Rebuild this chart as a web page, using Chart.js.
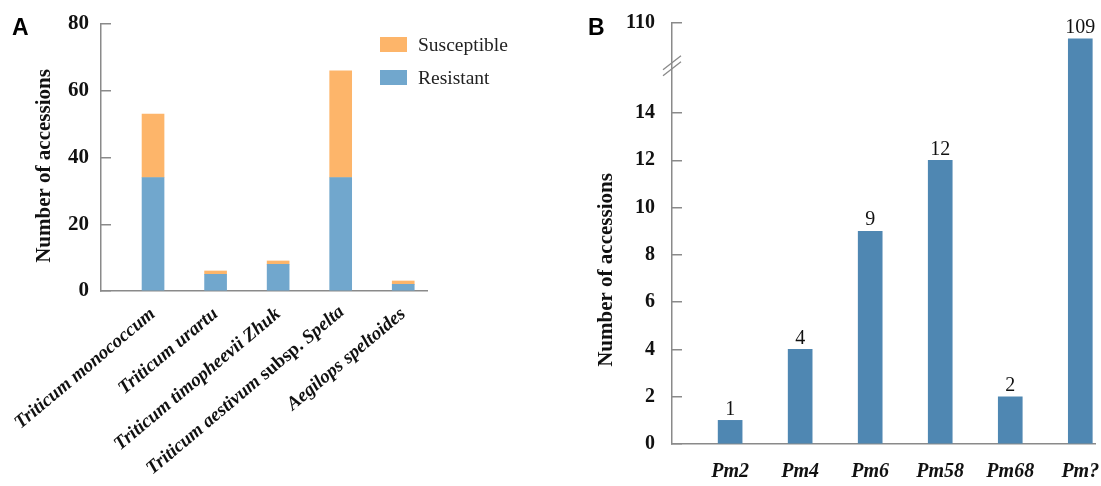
<!DOCTYPE html>
<html>
<head>
<meta charset="utf-8">
<script src="https://cdn.jsdelivr.net/npm/chart.js@4"></script>
<style>
  body { margin: 0; background: #fff; width: 1101px; height: 486px; position: relative; overflow: hidden; }
  .panel { position: absolute; top: 0; height: 486px; }
  #wrapA { left: 0; width: 560px; }
  #wrapB { left: 560px; width: 541px; }
  .tag { position: absolute; font: bold 23px "Liberation Sans", Arial, sans-serif; }
  #legendA { position: absolute; left: 380px; top: 28px; font: 19.5px "Liberation Serif", serif; color: #222; }
  #legendA div { height: 33px; display: flex; align-items: center; }
  #legendA span.box { display: inline-block; width: 27px; height: 15px; margin-right: 11px; }
</style>
</head>
<body>
<div class="panel" id="wrapA"><canvas id="chartA" width="560" height="486"></canvas></div>
<div class="panel" id="wrapB"><canvas id="chartB" width="541" height="486"></canvas></div>
<div class="tag" style="left:12px;top:14px">A</div>
<div class="tag" style="left:588px;top:14px">B</div>
<div id="legendA"></div>
<script>
// Panel A: resistance by species (stacked)
const speciesLabels = ['Triticum monococcum', 'Triticum urartu', 'Triticum timopheevii Zhuk',
                       'Triticum aestivum subsp. Spelta', 'Aegilops speltoides'];
const resistant = [34, 5, 8, 34, 2];
const susceptible = [19, 1, 1, 32, 1];
const yTicksA = [0, 20, 40, 60, 80];

// Panel B: Pm genes
const pmLabels = ['Pm2', 'Pm4', 'Pm6', 'Pm58', 'Pm68', 'Pm?'];
const pmCounts = [1, 4, 9, 12, 2, 109];
const yTicksB = [0, 2, 4, 6, 8, 10, 12, 14, 110];

const serif = '"Liberation Serif", "Times New Roman", serif';
const axisGrey = '#8a8a8a';
const LABEL_ROT = 40;

// broken y axis: 0..16 in the lower part, 107.3..110 above the break
const BREAK_LO = 16, BREAK_HI = 107.3, LOWER_SHARE = 0.8985;
class BrokenScale extends Chart.LinearScale {
  valueToDecimal(v) {
    if (v <= BREAK_LO) return (v / BREAK_LO) * LOWER_SHARE;
    if (v < BREAK_HI) return LOWER_SHARE;
    return LOWER_SHARE + (v - BREAK_HI) / (this.max - BREAK_HI) * (1 - LOWER_SHARE);
  }
  getPixelForValue(v) {
    if (v === null || v === undefined) return NaN;
    return this.getPixelForDecimal(this.valueToDecimal(v));
  }
  getValueForPixel(p) {
    const d = this.getDecimalForPixel(p);
    if (d <= LOWER_SHARE) return d / LOWER_SHARE * BREAK_LO;
    return BREAK_HI + (d - LOWER_SHARE) / (1 - LOWER_SHARE) * (this.max - BREAK_HI);
  }
}
BrokenScale.id = 'broken';
BrokenScale.defaults = Chart.LinearScale.defaults;
Chart.register(BrokenScale);

function fixedTicks(list) {
  return scale => { scale.ticks = list.map(v => ({ value: v })); };
}

// rotated y-axis title drawn at a chosen centre
const yTitle = {
  id: 'yTitle',
  afterDraw(chart, args, opts) {
    const ctx = chart.ctx;
    ctx.save();
    ctx.translate(opts.x, opts.y);
    ctx.rotate(-Math.PI / 2);
    ctx.fillStyle = '#111';
    ctx.font = 'bold 21px ' + serif;
    ctx.textAlign = 'center';
    ctx.textBaseline = 'middle';
    ctx.fillText(opts.text, 0, 0);
    ctx.restore();
  }
};

// species label with an upright "subsp." — drawn where the scale would put it
const mixedLabel = {
  id: 'mixedLabel',
  afterDraw(chart) {
    const x = chart.scales.x;
    const ctx = chart.ctx;
    speciesLabels.forEach((name, i) => {
      if (!name.includes(' subsp. ')) return;
      const [genus, rest] = name.split(' subsp. ');
      const parts = [
        { t: genus + ' ', f: 'italic bold 19px ' + serif },
        { t: 'subsp. ', f: 'bold 19px ' + serif },
        { t: rest, f: 'italic bold 19px ' + serif }
      ];
      ctx.save();
      ctx.fillStyle = '#111';
      ctx.textBaseline = 'middle';
      ctx.textAlign = 'left';
      let total = 0;
      parts.forEach(p => { ctx.font = p.f; p.w = ctx.measureText(p.t).width; total += p.w; });
      ctx.translate(x.getPixelForValue(i + 1), x.top + 17);
      ctx.rotate(-LABEL_ROT * Math.PI / 180);
      let cx = -total;
      parts.forEach(p => { ctx.font = p.f; ctx.fillText(p.t, cx, 2); cx += p.w; });
      ctx.restore();
    });
  }
};

// Panel A
const chartA = new Chart(document.getElementById('chartA'), {
  type: 'bar',
  data: {
    datasets: [
      { label: 'Resistant', data: resistant.map((v, i) => ({ x: i + 1, y: v })),
        backgroundColor: '#71a7cd', barThickness: 22 },
      { label: 'Susceptible', data: susceptible.map((v, i) => ({ x: i + 1, y: v })),
        backgroundColor: '#fdb56a', barThickness: 22 }
    ]
  },
  options: {
    responsive: false,
    animation: false,
    layout: { padding: { left: 0, top: 24, right: 133, bottom: 0 } },
    plugins: {
      legend: { display: false }, tooltip: { enabled: false },
      yTitle: { text: 'Number of accessions', x: 45, y: 166 }
    },
    scales: {
      x: {
        type: 'linear', stacked: true, min: 0.168, max: 5.38, offset: false,
        afterBuildTicks: fixedTicks([1, 2, 3, 4, 5]),
        afterFit: s => { s.height = 195; s.paddingLeft = 0; s.paddingRight = 0; },
        grid: { display: false, offset: false },
        border: { color: axisGrey, width: 1.5 },
        ticks: {
          autoSkip: false, minRotation: LABEL_ROT, maxRotation: LABEL_ROT, padding: 4, color: '#111',
          font: { family: serif, size: 19, style: 'italic', weight: 'bold' },
          callback: v => {
            const name = speciesLabels[v - 1] || '';
            return name.includes(' subsp. ') ? '' : name;
          }
        }
      },
      y: {
        stacked: true, min: 0, max: 80,
        afterBuildTicks: fixedTicks(yTicksA),
        afterFit: s => { s.width = 101; s.paddingTop = 0; s.paddingBottom = 0; },
        grid: { drawOnChartArea: false, tickLength: -10, color: axisGrey, lineWidth: 1.5 },
        border: { color: axisGrey, width: 1.5 },
        ticks: { padding: 22, color: '#111', font: { family: serif, size: 21, weight: 'bold' } }
      }
    }
  },
  plugins: [yTitle, mixedLabel]
});

// HTML legend from the datasets, Susceptible first
const legendA = document.getElementById('legendA');
chartA.data.datasets.slice().reverse().forEach(ds => {
  const row = document.createElement('div');
  row.innerHTML = '<span class="box" style="background:' + ds.backgroundColor + '"></span>' + ds.label;
  legendA.appendChild(row);
});

// value labels and axis break for panel B
const extrasB = {
  id: 'extrasB',
  afterDatasetsDraw(chart) {
    const ctx = chart.ctx;
    const meta = chart.getDatasetMeta(0);
    ctx.save();
    ctx.fillStyle = '#111';
    ctx.font = '20px ' + serif;
    ctx.textAlign = 'center';
    ctx.textBaseline = 'bottom';
    meta.data.forEach((bar, i) => {
      ctx.fillText(String(pmCounts[i]), bar.x, bar.y - 1);
    });
    // break marks on the y axis
    const y = chart.scales.y;
    const bx = chart.chartArea.left;
    const by = y.getPixelForValue(BREAK_LO);
    ctx.strokeStyle = axisGrey;
    ctx.lineWidth = 1.3;
    [-3, 3].forEach(d => {
      ctx.beginPath();
      ctx.moveTo(bx - 9, by + 7 + d);
      ctx.lineTo(bx + 9, by - 7 + d);
      ctx.stroke();
    });
    ctx.restore();
  }
};

new Chart(document.getElementById('chartB'), {
  type: 'bar',
  data: {
    datasets: [
      { label: 'Number of accessions', data: pmCounts.map((v, i) => ({ x: i + 1, y: v })),
        backgroundColor: '#4f87b2', barThickness: 24 }
    ]
  },
  options: {
    responsive: false,
    animation: false,
    layout: { padding: { left: 0, top: 23, right: 6, bottom: 0 } },
    plugins: {
      legend: { display: false }, tooltip: { enabled: false },
      yTitle: { text: 'Number of accessions', x: 47, y: 270 }
    },
    scales: {
      x: {
        type: 'linear', min: 0.17, max: 6.21, offset: false,
        afterBuildTicks: fixedTicks([1, 2, 3, 4, 5, 6]),
        afterFit: s => { s.height = 42; s.paddingLeft = 0; s.paddingRight = 0; },
        grid: { display: false, offset: false },
        border: { color: axisGrey, width: 1.5 },
        ticks: {
          autoSkip: false, maxRotation: 0, padding: 8, color: '#111',
          font: { family: serif, size: 20, style: 'italic', weight: 'bold' },
          callback: v => pmLabels[v - 1] || ''
        }
      },
      y: {
        type: 'broken', min: 0, max: 110,
        afterBuildTicks: fixedTicks(yTicksB),
        afterFit: s => { s.width = 112; s.paddingTop = 0; s.paddingBottom = 0; },
        grid: { drawOnChartArea: false, tickLength: -10, color: axisGrey, lineWidth: 1.5 },
        border: { color: axisGrey, width: 1.5 },
        ticks: { padding: 27, color: '#111', font: { family: serif, size: 20, weight: 'bold' } }
      }
    }
  },
  plugins: [extrasB, yTitle]
});
</script>
</body>
</html>
